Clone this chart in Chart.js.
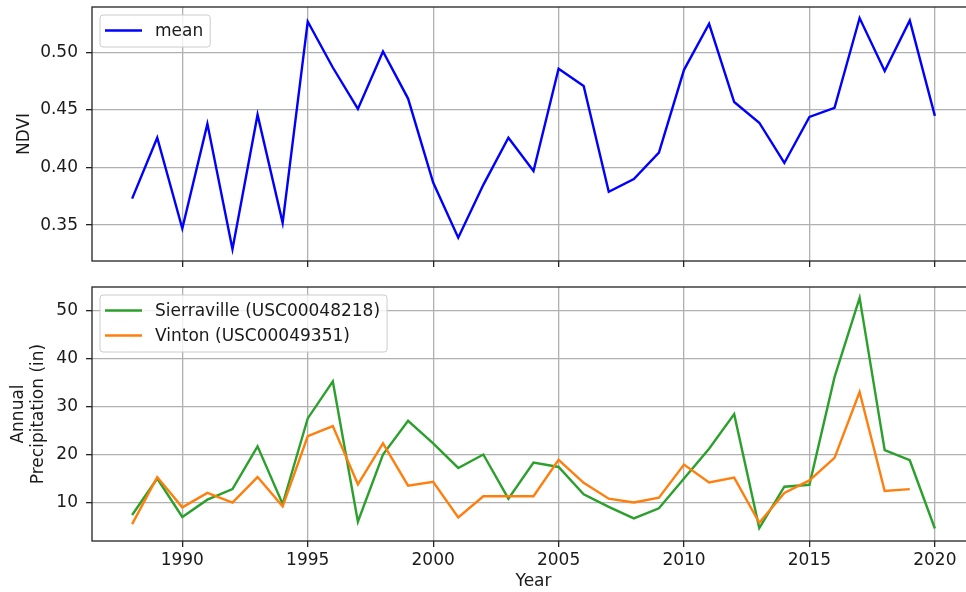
<!DOCTYPE html>
<html>
<head>
<meta charset="utf-8">
<script src="https://cdn.jsdelivr.net/npm/chart.js@4.4.1/dist/chart.umd.min.js"></script>
<style>
    html, body { margin: 0; padding: 0; background: #fff; overflow: hidden; }
    #wrap { position: relative; width: 966px; height: 592px; overflow: hidden; }
    #ndviChart { position: absolute; left: 0; top: 0; }
    #precipChart { position: absolute; left: 0; top: 270px; }
</style>
</head>
<body>
<div id="wrap">
    <canvas id="ndviChart" width="980" height="270"></canvas>
    <canvas id="precipChart" width="980" height="322"></canvas>
</div>
<script>
const years = [1988, 1989, 1990, 1991, 1992, 1993, 1994, 1995, 1996, 1997, 1998,
    1999, 2000, 2001, 2002, 2003, 2004, 2005, 2006, 2007, 2008, 2009, 2010,
    2011, 2012, 2013, 2014, 2015, 2016, 2017, 2018, 2019, 2020];

const ndviMean = [0.373, 0.426, 0.347, 0.438, 0.329, 0.446, 0.352, 0.527, 0.487, 0.451, 0.501,
    0.460, 0.387, 0.339, 0.385, 0.426, 0.397, 0.486, 0.471, 0.379, 0.390, 0.413, 0.485,
    0.525, 0.457, 0.439, 0.404, 0.444, 0.452, 0.530, 0.484, 0.528, 0.445];

const sierraville = [7.4, 15.0, 7.0, 10.6, 12.8, 21.7, 9.7, 27.5, 35.2, 6.0, 20.0,
    27.0, 22.3, 17.2, 20.0, 10.8, 18.3, 17.4, 11.7, 9.1, 6.7, 8.8, 15.0,
    21.2, 28.4, 4.7, 13.3, 13.7, 36.1, 52.6, 20.9, 18.8, 4.6];

const vinton = [5.5, 15.3, 9.0, 12.0, 10.0, 15.3, 9.2, 23.8, 25.9, 13.8, 22.3,
    13.5, 14.3, 6.9, 11.3, 11.3, 11.3, 18.9, 14.1, 10.8, 10.0, 11.0, 17.9,
    14.2, 15.2, 5.8, 12.0, 14.6, 19.3, 33.0, 12.4, 12.8, null];

const yearTicks = [1990, 1995, 2000, 2005, 2010, 2015, 2020];
const ndviTicks = [0.35, 0.40, 0.45, 0.50];
const precipTicks = [10, 20, 30, 40, 50];

const FONT = { family: '"DejaVu Sans"', size: 17, lineHeight: 1.2 };
const TEXT = '#1a1a1a';
const GRID = '#b0b0b0';

const toPoints = arr => years.map((yr, i) => ({ x: yr, y: arr[i] }));

// black box round the plot area, like matplotlib spines
const framePlugin = {
    id: 'frame',
    afterDatasetsDraw(chart) {
        const { ctx, chartArea: a } = chart;
        ctx.save();
        ctx.strokeStyle = '#222';
        ctx.lineWidth = 1.3;
        ctx.strokeRect(a.left, a.top, a.right - a.left, a.bottom - a.top);
        ctx.restore();
    }
};

// legend drawn inside the plot, upper left
const insideLegend = {
    id: 'insideLegend',
    afterDatasetsDraw(chart) {
        const { ctx, chartArea: a } = chart;
        const sets = chart.data.datasets;
        ctx.save();
        ctx.font = '17px "DejaVu Sans"';
        const textW = Math.max(...sets.map(d => ctx.measureText(d.label).width));
        const bx = a.left + 8, by = a.top + 8;
        const bw = 55 + textW + 7;
        const bh = 32 + 25 * (sets.length - 1);
        ctx.beginPath();
        ctx.roundRect(bx, by, bw, bh, 3);
        ctx.fillStyle = 'rgba(255,255,255,0.8)';
        ctx.fill();
        ctx.strokeStyle = '#cccccc';
        ctx.lineWidth = 1;
        ctx.stroke();
        sets.forEach((d, i) => {
            const cy = by + 15.5 + i * 25;
            ctx.beginPath();
            ctx.moveTo(bx + 5, cy);
            ctx.lineTo(bx + 42, cy);
            ctx.strokeStyle = d.borderColor;
            ctx.lineWidth = 2.4;
            ctx.stroke();
            ctx.fillStyle = TEXT;
            ctx.textBaseline = 'middle';
            ctx.fillText(d.label, bx + 55, cy + 1);
        });
        ctx.restore();
    }
};

function xScale(showLabels, height) {
    return {
        type: 'linear',
        min: 1986.4,
        max: 2021.6,
        afterBuildTicks: s => { s.ticks = yearTicks.map(v => ({ value: v })); },
        afterFit: s => { s.height = height; s.paddingLeft = 0; s.paddingRight = 0; },
        grid: { color: GRID, lineWidth: 1.3, tickColor: '#222', tickLength: 6 },
        border: { display: false },
        ticks: { display: showLabels, color: TEXT, font: FONT, padding: 3, maxRotation: 0, callback: v => String(v) },
        title: { display: showLabels, text: 'Year', color: TEXT, font: FONT, padding: { top: 0, bottom: 0 } }
    };
}

function yScale(min, max, tickVals, fmt, title, titlePad) {
    return {
        min: min,
        max: max,
        afterBuildTicks: s => { s.ticks = tickVals.map(v => ({ value: v })); },
        afterFit: s => { s.width = 92; s.paddingTop = 0; s.paddingBottom = 0; },
        grid: { color: GRID, lineWidth: 1.3, tickColor: '#222', tickLength: 6 },
        border: { display: false },
        ticks: { color: TEXT, font: FONT, padding: 8, callback: fmt },
        title: { display: true, text: title, color: TEXT, font: FONT, padding: { top: titlePad } }
    };
}

new Chart(document.getElementById('ndviChart'), {
    type: 'line',
    data: {
        datasets: [{
            label: 'mean',
            data: toPoints(ndviMean),
            borderColor: '#0000ff',
            borderWidth: 2.4,
            pointRadius: 0,
            tension: 0
        }]
    },
    options: {
        responsive: false,
        animation: false,
        layout: { padding: { top: 7, right: 5, left: 0, bottom: 0 } },
        plugins: { legend: { display: false }, tooltip: { enabled: false } },
        scales: {
            x: xScale(false, 9),
            y: yScale(0.3188, 0.5396, ndviTicks, v => v.toFixed(2), 'NDVI', 14)
        }
    },
    plugins: [framePlugin, insideLegend]
});

new Chart(document.getElementById('precipChart'), {
    type: 'line',
    data: {
        datasets: [{
            label: 'Sierraville (USC00048218)',
            data: toPoints(sierraville),
            borderColor: '#2ca02c',
            borderWidth: 2.4,
            pointRadius: 0,
            tension: 0,
            order: 1
        }, {
            label: 'Vinton (USC00049351)',
            data: toPoints(vinton),
            borderColor: '#ff7f0e',
            borderWidth: 2.4,
            pointRadius: 0,
            tension: 0,
            spanGaps: false,
            order: 0
        }]
    },
    options: {
        responsive: false,
        animation: false,
        layout: { padding: { top: 17, right: 5, left: 0, bottom: 0 } },
        plugins: { legend: { display: false }, tooltip: { enabled: false } },
        scales: {
            x: xScale(true, 51),
            y: yScale(2.0, 54.85, precipTicks, v => String(v), ['Annual', 'Precipitation (in)'], 8)
        }
    },
    plugins: [framePlugin, insideLegend]
});
</script>
</body>
</html>
